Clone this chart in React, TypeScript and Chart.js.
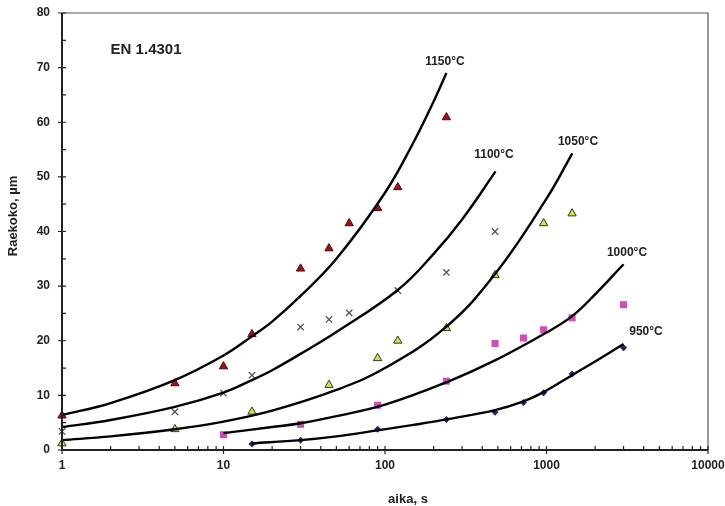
import React, { useEffect, useRef } from 'react';
import { Chart, registerables } from 'chart.js';
Chart.register(...registerables);

// measured points (time s, grain size µm)
const t1150 = [1, 5, 10, 15, 30, 45, 60, 90, 120, 240];
const d1150 = [6.3, 12.2, 15.3, 21.2, 33.2, 36.9, 41.5, 44.3, 48.1, 60.9];
const t1100 = [1, 5, 10, 15, 30, 45, 60, 120, 240, 480];
const d1100 = [3.4, 7.0, 10.4, 13.7, 22.5, 23.9, 25.1, 29.2, 32.5, 40.0];
const t1050 = [1, 5, 15, 45, 90, 120, 240, 480, 960, 1440];
const d1050 = [1.2, 3.8, 7.0, 11.9, 16.8, 20.0, 22.3, 32.0, 41.5, 43.3];
const t1000 = [10, 30, 90, 240, 480, 720, 960, 1440, 3000];
const d1000 = [2.8, 4.7, 8.2, 12.6, 19.5, 20.5, 22.0, 24.2, 26.6];
const t950 = [15, 30, 90, 240, 480, 720, 960, 1440, 3000];
const d950 = [1.1, 1.8, 3.8, 5.6, 6.9, 8.7, 10.5, 13.9, 18.7];

// fitted curves
const ct1150 = [1, 2, 5, 10, 15, 20, 30, 50, 100, 150, 200, 240];
const cd1150 = [6.4, 8.6, 12.8, 17.3, 20.8, 23.5, 28.2, 35.0, 47.1, 56.3, 63.8, 69.0];
const ct1100 = [1, 2, 5, 10, 15, 20, 30, 50, 120, 200, 300, 484];
const cd1100 = [4.2, 5.5, 7.9, 10.5, 12.8, 14.6, 17.6, 21.6, 29.3, 35.9, 42.2, 51.0];
const ct1050 = [1, 2, 5, 10, 20, 50, 100, 240, 480, 1000, 1445];
const cd1050 = [1.8, 2.5, 3.8, 5.2, 7.2, 11.0, 15.0, 22.6, 32.2, 46.0, 54.3];
const ct1000 = [10, 20, 30, 50, 100, 240, 480, 1000, 1440, 2000, 3000];
const cd1000 = [3.1, 4.2, 4.9, 6.2, 8.3, 12.4, 16.4, 21.5, 24.5, 28.5, 34.0];
const ct950 = [15, 30, 50, 90, 150, 240, 480, 720, 960, 1440, 2000, 3000];
const cd950 = [1.2, 1.8, 2.5, 3.6, 4.6, 5.6, 7.3, 8.9, 10.6, 13.7, 16.2, 19.4];

const xDecades = [1, 10, 100, 1000, 10000];
const yTicks = [0, 10, 20, 30, 40, 50, 60, 70, 80];

const curveLabels = ['1150°C', '1100°C', '1050°C', '1000°C', '950°C'];
const labelT = [235, 473, 1567, 3150, 4130];
const labelV = [71.1, 54.0, 56.4, 36.2, 21.7];
const titleText = 'EN 1.4301';
const xTitle = 'aika, s';
const yTitle = 'Raekoko, µm';

const zip = (xs: number[], ys: number[]) => xs.map((x, i) => ({ x, y: ys[i] }));

const decor = {
  id: 'decor',
  afterDraw(chart: any) {
    const { ctx, chartArea: a, scales } = chart;
    const x = scales.x;
    const y = scales.y;
    ctx.save();
    // frame
    ctx.strokeStyle = '#555';
    ctx.lineWidth = 1.2;
    ctx.beginPath();
    ctx.moveTo(a.left, a.top);
    ctx.lineTo(a.right, a.top);
    ctx.lineTo(a.right, a.bottom);
    ctx.stroke();
    ctx.strokeStyle = '#222';
    ctx.lineWidth = 2;
    ctx.beginPath();
    ctx.moveTo(a.left, a.top);
    ctx.lineTo(a.left, a.bottom);
    ctx.lineTo(a.right, a.bottom);
    ctx.stroke();
    // ticks
    ctx.lineWidth = 1.2;
    ctx.beginPath();
    for (let v = 0; v <= 80; v += 5) {
      const py = y.getPixelForValue(v);
      const major = v % 10 === 0;
      ctx.moveTo(major ? a.left - 4 : a.left, py);
      ctx.lineTo(a.left + 4, py);
    }
    for (let d = 1; d <= 1000; d *= 10) {
      for (let k = 1; k <= 9; k++) {
        const px = x.getPixelForValue(d * k);
        const major = k === 1;
        ctx.moveTo(px, major ? a.bottom + 4 : a.bottom + 1);
        ctx.lineTo(px, a.bottom - 4);
      }
    }
    const pe = x.getPixelForValue(10000);
    ctx.moveTo(pe, a.bottom + 4);
    ctx.lineTo(pe, a.bottom - 4);
    ctx.stroke();

    ctx.fillStyle = '#222';
    ctx.textBaseline = 'middle';
    // title
    ctx.font = 'bold 15px "Liberation Sans", Arial, sans-serif';
    ctx.textAlign = 'left';
    ctx.fillText(titleText, x.getPixelForValue(2), y.getPixelForValue(73.3));
    // curve labels
    ctx.font = 'bold 12px "Liberation Sans", Arial, sans-serif';
    ctx.textAlign = 'center';
    curveLabels.forEach((s, i) => {
      ctx.fillText(s, x.getPixelForValue(labelT[i]), y.getPixelForValue(labelV[i]));
    });
    // axis titles
    ctx.font = 'bold 13px "Liberation Sans", Arial, sans-serif';
    ctx.fillText(xTitle, 408, 499);
    ctx.save();
    ctx.translate(13, 216);
    ctx.rotate(-Math.PI / 2);
    ctx.fillText(yTitle, 0, 0);
    ctx.restore();
    ctx.restore();
  },
};

export default function App() {
  const ref = useRef<HTMLCanvasElement>(null);
  useEffect(() => {
    document.body.style.margin = '0';
    const pts = (data: any, style: string, fill: string, border: string, r: number, bw: number) => ({
      data,
      showLine: false,
      pointStyle: style,
      pointRadius: r,
      pointBackgroundColor: fill,
      pointBorderColor: border,
      pointBorderWidth: bw,
      clip: false,
    });
    const line = (data: any) => ({
      data,
      showLine: true,
      pointRadius: 0,
      borderColor: '#000',
      borderWidth: 2.4,
      tension: 0.4,
      clip: false,
    });
    const chart = new Chart(ref.current as HTMLCanvasElement, {
      type: 'scatter',
      data: {
        datasets: [
          line(zip(ct1150, cd1150)),
          line(zip(ct1100, cd1100)),
          line(zip(ct1050, cd1050)),
          line(zip(ct1000, cd1000)),
          line(zip(ct950, cd950)),
          pts(zip(t1150, d1150), 'triangle', '#a3101c', '#4a0a0a', 4.8, 1),
          pts(zip(t1100, d1100), 'crossRot', '#555', '#555', 4.5, 1.3),
          pts(zip(t1050, d1050), 'triangle', '#d6e04a', '#333', 4.8, 1),
          pts(zip(t1000, d1000), 'rect', '#cf4fb4', '#cf4fb4', 5, 0),
          pts(zip(t950, d950), 'rectRot', '#24206e', '#24206e', 3.5, 0),
        ] as any,
      },
      options: {
        animation: false,
        responsive: true,
        maintainAspectRatio: false,
        layout: { padding: { top: 13, right: 17, left: 0, bottom: 0 } },
        plugins: { legend: { display: false }, tooltip: { enabled: false } },
        scales: {
          x: {
            type: 'logarithmic',
            min: 1,
            max: 10000,
            grid: { display: false },
            border: { display: false },
            afterBuildTicks: (s: any) => {
              s.ticks = xDecades.map((v) => ({ value: v }));
            },
            afterFit: (s: any) => {
              s.height = 56;
            },
            ticks: {
              autoSkip: false,
              maxRotation: 0,
              padding: 0,
              color: '#222',
              font: { family: '"Liberation Sans", Arial, sans-serif', size: 12, weight: 'bold' },
              callback: (v: any) => String(v),
            },
          },
          y: {
            min: 0,
            max: 80,
            grid: { display: false },
            border: { display: false },
            afterBuildTicks: (s: any) => {
              s.ticks = yTicks.map((v) => ({ value: v }));
            },
            afterFit: (s: any) => {
              s.width = 62;
            },
            ticks: {
              padding: 4,
              color: '#222',
              font: { family: '"Liberation Sans", Arial, sans-serif', size: 12, weight: 'bold' },
            },
          },
        },
      },
      plugins: [decor],
    } as any);
    return () => chart.destroy();
  }, []);
  return (
    <div style={{ width: 725, height: 506, position: 'relative', background: '#fff' }}>
      <canvas ref={ref} />
    </div>
  );
}
